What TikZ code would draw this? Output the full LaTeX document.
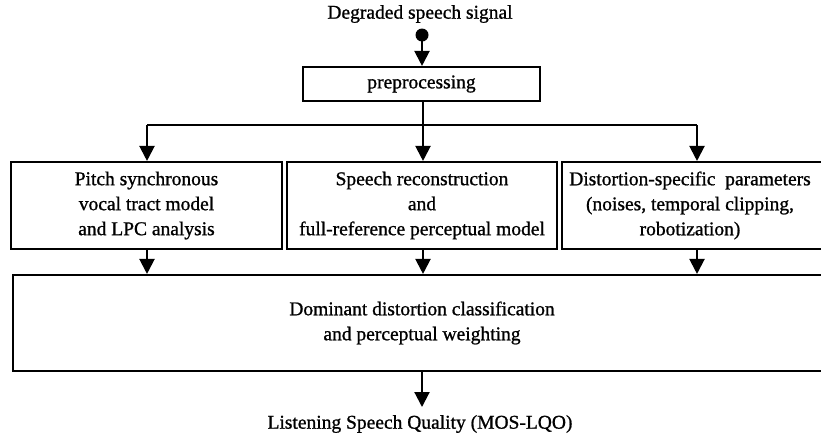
\documentclass[tikz,border=0pt]{standalone}
\usepackage{fontspec}
\setmainfont{Liberation Serif}[RawFeature={embolden=1.0}]
\usetikzlibrary{arrows.meta}
\begin{document}
\begin{tikzpicture}[x=1pt,y=-1pt,
  txt/.style={font=\fontsize{19.5}{25}\selectfont},
  box/.style={txt,draw,line width=2.1pt,inner sep=0pt,align=center},
  lbl/.style={txt,inner sep=0pt,align=center},
  wire/.style={line width=2.1pt},
  conn/.style={wire,-{Triangle[width=15pt,length=15pt]}},
  ]
\useasboundingbox (0,0) rectangle (821,437);
\clip (0,0) rectangle (821,437);
\node[lbl] (title) at (420,14) {Degraded speech signal};
\coordinate (src) at (422,35);
\fill (src) circle (6.5pt);
\node[box,minimum width=237pt,minimum height=34pt] (pre) at (421.5,84) {preprocessing};
\draw[conn] (src) -- (src |- pre.north);
\node[box,minimum width=271pt,minimum height=87pt] (b1) at (146.5,205.5) {Pitch synchronous\\vocal tract model\\and LPC analysis};
\node[box,minimum width=270pt,minimum height=87pt] (b2) at (422,205.5) {Speech reconstruction\\and\\full-reference perceptual model};
\node[box,minimum width=268pt,minimum height=87pt] (b3) at (696,205.5) {};
\node[lbl] (t3) at (690,205.5) {Distortion-specific\ \ parameters\\(noises, temporal clipping,\\robotization)};
\node[box,minimum width=818pt,minimum height=96pt] (dom) at (422,323) {Dominant distortion classification\\and perceptual weighting};
\node[lbl] (out) at (420,424) {Listening Speech Quality (MOS-LQO)};
\coordinate (split) at (423,125);
\coordinate (sl) at (147,125);
\coordinate (sr) at (697,125);
\coordinate (oa) at (422,407);
\draw[wire] (pre.south -| split) -- (split);
\draw[wire] (sl) -- (sr);
\draw[conn] (sl) -- (sl |- b1.north);
\draw[conn] (split) -- (split |- b2.north);
\draw[conn] (sr) -- (sr |- b3.north);
\draw[conn] (b1.south -| sl) -- (sl |- dom.north);
\draw[conn] (b2.south -| split) -- (split |- dom.north);
\draw[conn] (b3.south -| sr) -- (sr |- dom.north);
\draw[conn] (dom.south) -- (oa);
\end{tikzpicture}
\end{document}
